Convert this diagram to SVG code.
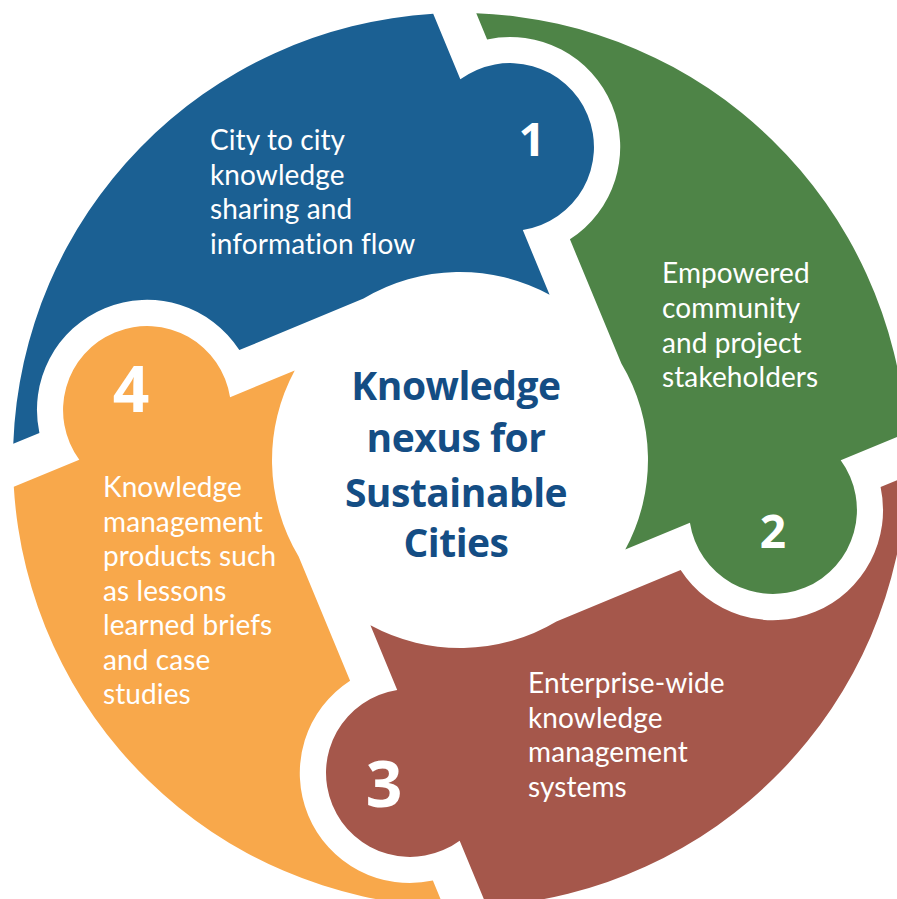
<svg xmlns="http://www.w3.org/2000/svg" width="897" height="899" viewBox="0 0 897 899">
<style>
.seg{stroke:none}
.body{font-family:Lato,"Open Sans","Liberation Sans",sans-serif;font-size:28px;fill:#ffffff;letter-spacing:0.1px}
.num{font-family:"Open Sans","Liberation Sans",sans-serif;font-weight:bold;fill:#ffffff;text-anchor:middle}
.title{font-family:"Open Sans","Liberation Sans",sans-serif;font-weight:bold;font-size:39px;fill:#144d84;text-anchor:middle;letter-spacing:-0.5px}
</style>
<defs>
<path id="segshape" d="M -406.5 -186 A 447 447 0 0 1 146 -422.5 L 146 -351.6 A 84 84 0 1 1 146 -188.4 L 146 -118.4 A 188 188 0 0 0 -27.35 -186 L -161.8 -186 A 110 110 0 0 0 -378.2 -186 Z"/>
</defs>
<rect width="897" height="899" fill="#ffffff"/>
<g id="connectors"></g>
<g id="node1">
<use href="#segshape" class="seg" fill="#1b6093" transform="translate(460 460) rotate(-22.5)"/>
<text class="num" x="532" y="156" font-size="47">1</text>
<text class="body" x="210"><tspan x="210" y="150">City to city</tspan><tspan x="210" y="184.5">knowledge</tspan><tspan x="210" y="219">sharing and</tspan><tspan x="210" y="253.5">information flow</tspan></text>
</g>
<g id="node2">
<use href="#segshape" class="seg" fill="#4e8447" transform="translate(460 460) rotate(67.5)"/>
<text class="num" x="773" y="548" font-size="46">2</text>
<text class="body" x="662"><tspan x="662" y="283">Empowered</tspan><tspan x="662" y="318">community</tspan><tspan x="662" y="352.5">and project</tspan><tspan x="662" y="387">stakeholders</tspan></text>
</g>
<g id="node3">
<use href="#segshape" class="seg" fill="#a5574b" transform="translate(460 460) rotate(157.5)"/>
<text class="num" x="384" y="807" font-size="64">3</text>
<text class="body" x="528"><tspan x="528" y="693">Enterprise-wide</tspan><tspan x="528" y="727.5">knowledge</tspan><tspan x="528" y="762">management</tspan><tspan x="528" y="796.5">systems</tspan></text>
</g>
<g id="node4">
<use href="#segshape" class="seg" fill="#f8a84b" transform="translate(460 460) rotate(247.5)"/>
<text class="num" x="131" y="412" font-size="64">4</text>
<text class="body" x="103"><tspan x="103" y="497">Knowledge</tspan><tspan x="103" y="531.5">management</tspan><tspan x="103" y="566">products such</tspan><tspan x="103" y="600.5">as lessons</tspan><tspan x="103" y="635">learned briefs</tspan><tspan x="103" y="669.5">and case</tspan><tspan x="103" y="704">studies</tspan></text>
</g>
<g id="center">
<text class="title" x="456" y="400">Knowledge</text>
<text class="title" x="456" y="452">nexus for</text>
<text class="title" x="456" y="507">Sustainable</text>
<text class="title" x="456" y="557">Cities</text>
</g>
</svg>
